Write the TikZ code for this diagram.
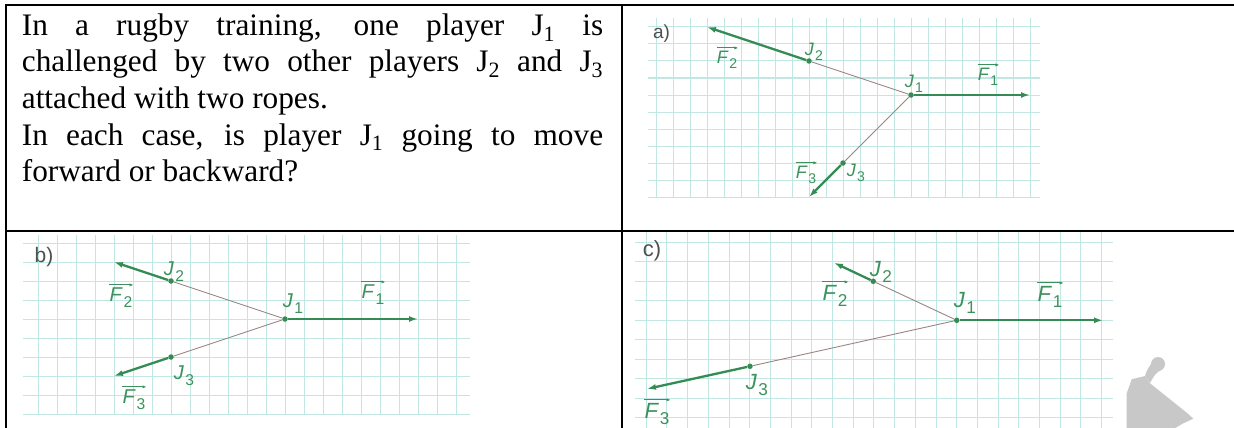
\documentclass[tikz,border=0pt]{standalone}
\usepackage{fontspec}
\usepackage{graphicx}
\setmainfont{Liberation Serif}
\newfontfamily\lblfont{Liberation Sans}
\usetikzlibrary{arrows.meta}
\definecolor{vecgreen}{RGB}{52,140,84}
\definecolor{lblgreen}{RGB}{60,146,94}
\definecolor{ropec}{RGB}{155,132,132}
\definecolor{gridc}{RGB}{192,231,225}
\definecolor{panelgrey}{RGB}{80,80,80}
\definecolor{wmgrey}{RGB}{200,200,200}
\newcommand\Jlab[1]{\textit{J}\kern0.06em\raisebox{-0.3em}{\scalebox{0.78}{#1}}}
\newcommand\Flab[1]{\textit{F}\kern0.04em\raisebox{-0.3em}{\scalebox{0.78}{#1}}}
\tikzset{
  tabline/.style={line width=1.8pt, black},
  gridline/.style={gridc, line width=1pt},
  txt/.style={inner sep=0pt, font=\fontsize{31.3}{36.5}\selectfont},
  lbl/.style={inner sep=0pt, text=lblgreen, font=\lblfont\fontsize{#1}{#1}\selectfont},
  lbl/.default=19,
  panellbl/.style={inner sep=0pt, text=panelgrey, font=\lblfont\fontsize{#1}{#1}\selectfont},
  panellbl/.default=20,
  jdot/.style={circle, fill=vecgreen, inner sep=0pt, minimum size=5.5pt},
  vec/.style={vecgreen, line width=2.3pt, -{Latex[length=9pt,width=6pt]}},
  rope/.style={ropec, line width=0.9pt},
  vecbar/.style={lblgreen, line width=0.9pt, -{Latex[length=4pt,width=3.2pt]}},
  wm/.style={wmgrey}
}
\begin{document}
\begin{tikzpicture}[x=1pt,y=-1pt]
\useasboundingbox (0,0) rectangle (1234,428);
\fill[white] (0,0) rectangle (1234,428);

% ---------- text ----------
\node[txt, anchor=base west] (t1) at (21.7,35.5) {\makebox[581.3pt][s]{In a rugby training, one player J\textsubscript{1} is}};
\node[txt, anchor=base west] (t2) at (21.7,72) {\makebox[581.3pt][s]{challenged by two other players J\textsubscript{2} and J\textsubscript{3}}};
\node[txt, anchor=base west] (t3) at (21.7,108.5) {attached with two ropes.};
\node[txt, anchor=base west] (t4) at (21.7,145) {\makebox[581.3pt][s]{In each case, is player J\textsubscript{1} going to move}};
\node[txt, anchor=base west] (t5) at (21.7,181.5) {forward or backward?};

% ---------- panel a grid ----------
\foreach \i in {-15,...,7} \draw[gridline] ({911+17*\i},18) -- ({911+17*\i},198);
\foreach \j in {-4,...,6} \draw[gridline] (648,{95+17*\j}) -- (1040,{95+17*\j});
% ---------- panel b grid ----------
\foreach \i in {-13,...,9} \draw[gridline] ({285+19*\i},235) -- ({285+19*\i},415);
\foreach \j in {-4,...,5} \draw[gridline] (23,{319+19*\j}) -- (470,{319+19*\j});
% ---------- panel c grid ----------
\foreach \i in {-15,...,7} \draw[gridline] ({956.7+20.7*\i},232) -- ({956.7+20.7*\i},428);
\foreach \j in {-4,...,5} \draw[gridline] (635,{320.3+19.5*\j}) -- (1113,{320.3+19.5*\j});

% ---------- table ----------
\draw[tabline] (6,430) -- (6,5) -- (1236,5);
\draw[tabline] (6,231) -- (1236,231);
\draw[tabline] (622,5) -- (622,430);

% ---------- panel a ----------
\node[panellbl=19] (pa) at (661.5,34) {a)};
\node[jdot] (a1) at (911,95) {};
\node[jdot] (a2) at (809,61) {};
\node[jdot] (a3) at (843,163) {};
\coordinate (a1f) at (1030,95);
\coordinate (a2f) at (707,27);
\coordinate (a3f) at (809,197);
\draw[rope] (a1) -- (a2);
\draw[rope] (a1) -- (a3);
\draw[vec] (a1) -- (a1f);
\draw[vec] (a2) -- (a2f);
\draw[vec] (a3) -- (a3f);
\node[lbl=18] (aJ1) at (914,84) {\Jlab{1}};
\node[lbl=18] (aJ2) at (814,52) {\Jlab{2}};
\node[lbl=18] (aJ3) at (856,173) {\Jlab{3}};
\node[lbl=18] (aF1) at (988,77) {\Flab{1}};
\node[lbl=18] (aF2) at (727,60) {\Flab{2}};
\node[lbl=18] (aF3) at (806,175) {\Flab{3}};
\foreach \n in {aF1,aF2,aF3} \draw[vecbar] ([yshift=3pt]\n.north west) -- ([yshift=3pt,xshift=1pt]\n.north east);

% ---------- panel b ----------
\node[panellbl=21] (pb) at (44,257) {b)};
\node[jdot] (b1) at (285,319) {};
\node[jdot] (b2) at (171,281) {};
\node[jdot] (b3) at (171,357) {};
\coordinate (b1f) at (418,319);
\coordinate (b2f) at (114,262);
\coordinate (b3f) at (114,376);
\draw[rope] (b1) -- (b2);
\draw[rope] (b1) -- (b3);
\draw[vec] (b1) -- (b1f);
\draw[vec] (b2) -- (b2f);
\draw[vec] (b3) -- (b3f);
\node[lbl=20] (bJ1) at (293,304) {\Jlab{1}};
\node[lbl=20] (bJ2) at (174,272) {\Jlab{2}};
\node[lbl=20] (bJ3) at (184,376) {\Jlab{3}};
\node[lbl=20] (bF1) at (373,295) {\Flab{1}};
\node[lbl=20] (bF2) at (121,298) {\Flab{2}};
\node[lbl=20] (bF3) at (134,400) {\Flab{3}};
\foreach \n in {bF1,bF2,bF3} \draw[vecbar] ([yshift=3pt]\n.north west) -- ([yshift=3pt,xshift=1pt]\n.north east);

% ---------- panel c ----------
\node[panellbl=22] (pc) at (652,251) {c)};
\node[jdot] (c1) at (956.7,320.3) {};
\node[jdot] (c2) at (873.3,281.3) {};
\node[jdot] (c3) at (750,366.3) {};
\coordinate (c1f) at (1103,320.3);
\coordinate (c2f) at (834,262.7);
\coordinate (c3f) at (647,388.9);
\draw[rope] (c1) -- (c2);
\draw[rope] (c1) -- (c3);
\draw[vec] (c1) -- (c1f);
\draw[vec] (c2) -- (c2f);
\draw[vec] (c3) -- (c3f);
\node[lbl=22] (cJ1) at (965,303) {\Jlab{1}};
\node[lbl=22] (cJ2) at (881,272) {\Jlab{2}};
\node[lbl=22] (cJ3) at (757,385) {\Jlab{3}};
\node[lbl=22] (cF1) at (1050,297) {\Flab{1}};
\node[lbl=22] (cF2) at (835,296) {\Flab{2}};
\node[lbl=22] (cF3) at (657,414) {\Flab{3}};
\foreach \n in {cF1,cF2,cF3} \draw[vecbar] ([yshift=3pt]\n.north west) -- ([yshift=3pt,xshift=1pt]\n.north east);

% ---------- watermark fragment ----------
\fill[wm] (1126.7,430) -- (1126.7,393.3) -- (1131.7,379.3) -- (1145,376)
  -- (1150,383.3) -- (1188.3,414) -- (1193.3,418.7) -- (1183.3,423.3) -- (1171.7,430) -- cycle;
\fill[wm] (1145,376) .. controls (1147,370) .. (1151,364) -- (1162,369) .. controls (1155,374) .. (1150,383) -- cycle;
\fill[wm] (1158,364) circle (7);
\end{tikzpicture}
\end{document}
